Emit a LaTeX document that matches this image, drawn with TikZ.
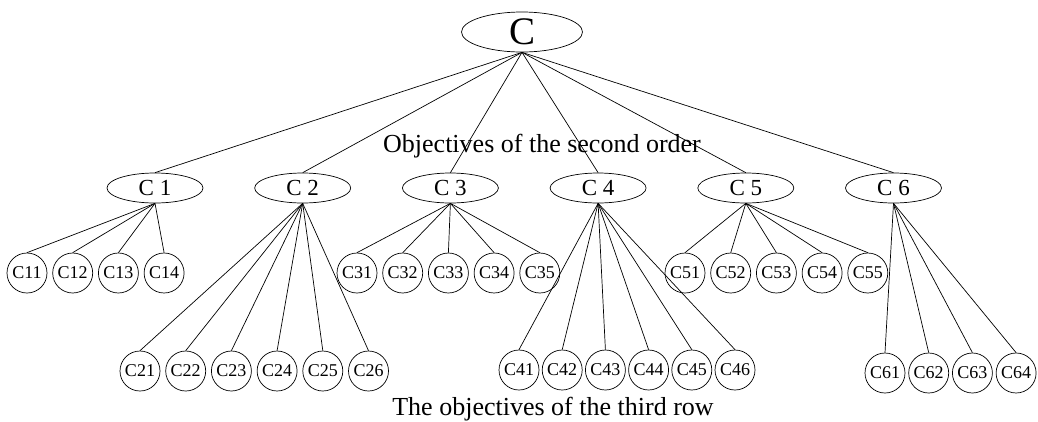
\documentclass[tikz,border=0pt]{standalone}
\usepackage{fontspec}
\setmainfont{Liberation Serif}
\usetikzlibrary{shapes.geometric}
\usetikzlibrary{positioning}

\tikzset{
  goal/.style={ellipse, draw, minimum width=121pt, minimum height=40pt, inner sep=0pt, font=\fontsize{39}{39}\selectfont},
  subgoal/.style={ellipse, draw, minimum width=96pt, minimum height=30pt, inner sep=0pt, font=\fontsize{23}{23}\selectfont},
  leaf/.style={circle, draw, minimum size=40pt, inner sep=0pt, font=\fontsize{18}{18}\selectfont},
  caption/.style={font=\fontsize{26}{26}\selectfont, inner sep=0pt}
}

\begin{document}
\begin{tikzpicture}[x=1pt, y=-1pt, node distance=51pt, line width=0.7pt]
  \useasboundingbox (0,0) rectangle (1038,421);

  % Define nodes
  \node[goal]                  (c)  at (522,32)  {C};
  \node[subgoal]               (c1) at (155,188) {C 1};
  \node[subgoal, right=of c1]  (c2) {C 2};
  \node[subgoal, right=of c2]  (c3) {C 3};
  \node[subgoal, right=of c3]  (c4) {C 4};
  \node[subgoal, right=of c4]  (c5) {C 5};
  \node[subgoal, right=of c5]  (c6) {C 6};

  \node[leaf] (c11) at (27,273) {C11};
  \node[leaf, right=5pt of c11] (c12) {C12};
  \node[leaf, right=5pt of c12] (c13) {C13};
  \node[leaf, right=5pt of c13] (c14) {C14};

  \node[leaf] (c21) at (140,371) {C21};
  \node[leaf, right=5pt of c21] (c22) {C22};
  \node[leaf, right=5pt of c22] (c23) {C23};
  \node[leaf, right=5pt of c23] (c24) {C24};
  \node[leaf, right=5pt of c24] (c25) {C25};
  \node[leaf, right=5pt of c25] (c26) {C26};

  \node[leaf] (c31) at (357,273) {C31};
  \node[leaf, right=5pt of c31] (c32) {C32};
  \node[leaf, right=5pt of c32] (c33) {C33};
  \node[leaf, right=5pt of c33] (c34) {C34};
  \node[leaf, right=5pt of c34] (c35) {C35};

  \node[leaf] (c41) at (519,370) {C41};
  \node[leaf, right=2.5pt of c41] (c42) {C42};
  \node[leaf, right=2.5pt of c42] (c43) {C43};
  \node[leaf, right=2.5pt of c43] (c44) {C44};
  \node[leaf, right=2.5pt of c44] (c45) {C45};
  \node[leaf, right=2.5pt of c45] (c46) {C46};

  \node[leaf] (c51) at (685,273) {C51};
  \node[leaf, right=5pt of c51] (c52) {C52};
  \node[leaf, right=5pt of c52] (c53) {C53};
  \node[leaf, right=5pt of c53] (c54) {C54};
  \node[leaf, right=5pt of c54] (c55) {C55};

  \node[leaf] (c61) at (885,373) {C61};
  \node[leaf, right=3pt of c61] (c62) {C62};
  \node[leaf, right=3pt of c62] (c63) {C63};
  \node[leaf, right=3pt of c63] (c64) {C64};

  \node[caption] (second) at (542,146) {Objectives of the second order};
  \node[caption, anchor=base] (third) at (553,415) {The objectives of the third row};

  % Connect the nodes
  \foreach \i in {1,...,6} \draw (c.south) -- (c\i.north);
  \foreach \j in {1,...,4} \draw (c1.south) -- (c1\j.north);
  \foreach \j in {1,...,6} \draw (c2.south) -- (c2\j.north);
  \foreach \j in {1,...,5} \draw (c3.south) -- (c3\j.north);
  \foreach \j in {1,...,6} \draw (c4.south) -- (c4\j.north);
  \foreach \j in {1,...,5} \draw (c5.south) -- (c5\j.north);
  \foreach \j in {1,...,4} \draw (c6.south) -- (c6\j.north);

\end{tikzpicture}
\end{document}
